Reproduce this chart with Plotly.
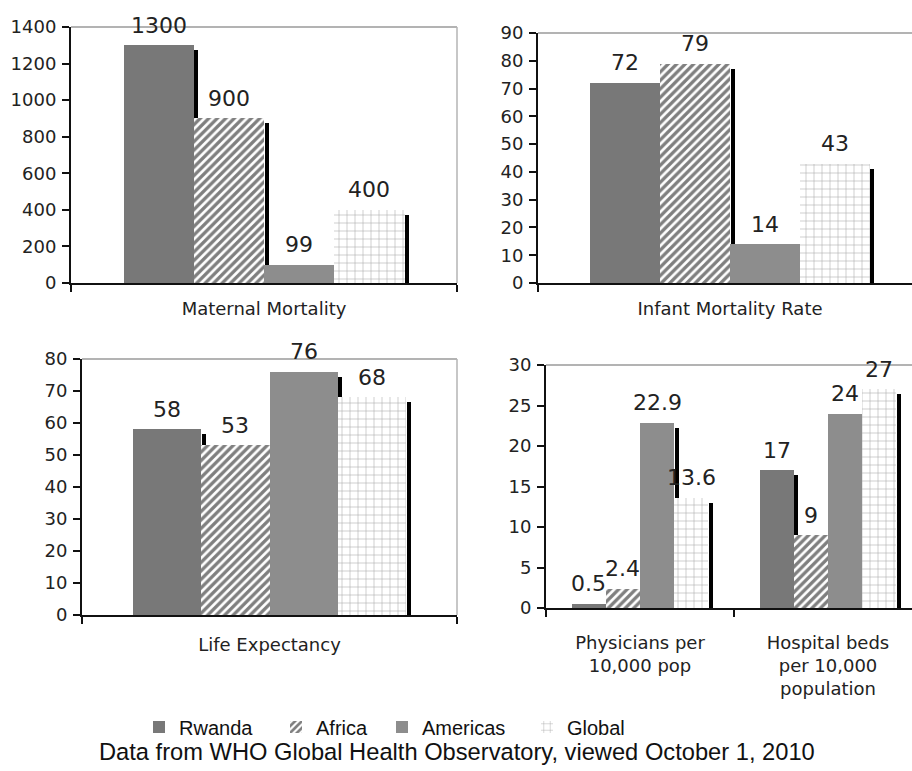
import plotly.graph_objects as go

# ---------------- data ----------------
series = ["Rwanda", "Africa", "Americas", "Global"]

cats1 = ["Maternal Mortality"]
maternal = {"Rwanda": [1300], "Africa": [900], "Americas": [99], "Global": [400]}

cats2 = ["Infant Mortality Rate"]
infant = {"Rwanda": [72], "Africa": [79], "Americas": [14], "Global": [43]}

cats3 = ["Life Expectancy"]
life = {"Rwanda": [58], "Africa": [53], "Americas": [76], "Global": [68]}

cats4 = ["Physicians per<br>10,000 pop", "Hospital beds<br>per 10,000<br>population"]
resources = {"Rwanda": [0.5, 17], "Africa": [2.4, 9], "Americas": [22.9, 24], "Global": [13.6, 27]}

footnote = "Data from WHO Global Health Observatory, viewed October 1, 2010"

# ---------------- styling ----------------
W, H = 912, 771
fills = {"Rwanda": "#787878", "Africa": "#ffffff", "Americas": "#8d8d8d", "Global": "#ffffff"}
patterns = {
    "Rwanda": dict(shape=""),
    "Africa": dict(shape="/", fgcolor="#000000", bgcolor="#ffffff", size=6, solidity=0.55),
    "Americas": dict(shape=""),
    "Global": dict(shape="+", fgcolor="#555555", bgcolor="#ffffff", size=8, solidity=0.14),
}
legend_x = {"Rwanda": 139, "Africa": 276, "Americas": 382, "Global": 527}

# panel boxes in pixels: x0, x1 (full category extent), y_top, y_bottom
panels = [
    dict(cats=cats1, data=maternal, ymax=1400, dtick=200, box=(71, 457, 27, 283), standoff=8, frame_right=True),
    dict(cats=cats2, data=infant, ymax=90, dtick=10, box=(538, 922, 33, 283), standoff=8, frame_right=False),
    dict(cats=cats3, data=life, ymax=80, dtick=10, box=(82, 457, 359, 615), standoff=12, frame_right=True),
    dict(cats=cats4, data=resources, ymax=30, dtick=5, box=(546, 922, 365, 608), standoff=17, frame_right=False),
]

BAR = 0.182          # bar width as fraction of a category
SH_W, SH_DX, SH_DY = 4, 2.5, 5   # shadow width / x offset / drop, in pixels

fig = go.Figure()
annotations = []
shapes = []
layout_axes = {}

for p, pan in enumerate(panels):
    k = "" if p == 0 else str(p + 1)
    xa, ya = "x" + k, "y" + k
    x0, x1, yt, yb = pan["box"]
    n = len(pan["cats"])
    ppu = (x1 - x0) / n                   # pixels per category unit
    ppv = (yb - yt) / pan["ymax"]         # pixels per value unit
    xr_end = -0.5 + (min(x1, W) - x0) / ppu

    # shadows first (drawn behind)
    for j, s in enumerate(series):
        xs, ys, ws = [], [], []
        for i, v in enumerate(pan["data"][s]):
            top = v - SH_DY / ppv
            if top <= 0:
                continue
            right = i + (j - 1.5) * BAR + BAR / 2
            xs.append(right + SH_DX / ppu)
            ys.append(top)
            ws.append(SH_W / ppu)
        if xs:
            fig.add_trace(go.Bar(x=xs, y=ys, width=ws, marker=dict(color="#000000", line=dict(width=0)),
                                 xaxis=xa, yaxis=ya, showlegend=False, hoverinfo="skip"))
    # main bars
    for j, s in enumerate(series):
        vals = pan["data"][s]
        xs = [i + (j - 1.5) * BAR for i in range(n)]
        fig.add_trace(go.Bar(
            x=xs, y=vals, width=[BAR] * n, name=s,
            marker=dict(color=fills[s], pattern=patterns[s], line=dict(width=0)),
            xaxis=xa, yaxis=ya, showlegend=(p == 0), legendgroup=s,
            legend="legend" if j == 0 else f"legend{j + 1}",
        ))
        for xv, v in zip(xs, vals):
            annotations.append(dict(x=xv, y=v, xref=xa, yref=ya, text=f"{v:g}", showarrow=False,
                                    yanchor="middle", yshift=20,
                                    font=dict(family="DejaVu Sans", size=22, color="#222222")))

    dom_x = [x0 / W, min(x1, W) / W]
    dom_y = [(H - yb) / H, (H - yt) / H]
    layout_axes["xaxis" + k] = dict(
        domain=dom_x, range=[-0.5, xr_end], anchor=ya, showgrid=False, zeroline=False,
        showline=True, linecolor="#111111", linewidth=2, automargin=False,
        tickvals=list(range(n)), ticktext=pan["cats"], ticks="",
        ticklabelstandoff=pan["standoff"],
        tickfont=dict(family="DejaVu Sans", size=18, color="#222222"),
        minor=dict(tickvals=[i - 0.5 for i in range(n + 1)], ticks="outside", ticklen=7,
                   tickcolor="#111111", tickwidth=1.5, showgrid=False),
        fixedrange=True,
    )
    layout_axes["yaxis" + k] = dict(
        domain=dom_y, range=[0, pan["ymax"]], anchor=xa, showgrid=False, zeroline=False,
        showline=True, linecolor="#111111", linewidth=2, dtick=pan["dtick"], automargin=False,
        ticks="outside", ticklen=7, tickwidth=1.5, tickcolor="#111111", ticklabelstandoff=2,
        tickfont=dict(family="DejaVu Sans", size=18, color="#222222"),
        fixedrange=True,
    )
    # gray frame (top and right)
    shapes.append(dict(type="line", xref=xa + " domain", yref=ya + " domain", x0=0, x1=1, y0=1, y1=1,
                       line=dict(color="#9a9a9a", width=1.5)))
    if pan["frame_right"]:
        shapes.append(dict(type="line", xref=xa + " domain", yref=ya + " domain", x0=1, x1=1, y0=0, y1=1,
                           line=dict(color="#b5b5b5", width=1.5)))

annotations.append(dict(x=457 / W, y=(H - 752) / H, xref="paper", yref="paper", text=footnote,
                        showarrow=False, xanchor="center", yanchor="middle",
                        font=dict(family="Liberation Sans", size=23.7, color="#111111")))

legends = {}
for j, s in enumerate(series):
    key = "legend" if j == 0 else f"legend{j + 1}"
    legends[key] = dict(orientation="h", x=legend_x[s] / W, xanchor="left", y=(H - 727) / H, yanchor="middle",
                        font=dict(family="Liberation Sans", size=20, color="#111111"),
                        itemwidth=30, bgcolor="rgba(0,0,0,0)", borderwidth=0)

fig.update_layout(
    width=W, height=H, autosize=False,
    margin=dict(l=0, r=0, t=0, b=0, autoexpand=False),
    paper_bgcolor="white", plot_bgcolor="white",
    barmode="overlay", bargap=0,
    showlegend=True,
    annotations=annotations, shapes=shapes,
    **legends,
    **layout_axes,
)

fig.write_html("out.html", config={"displayModeBar": False},
               post_script="document.body.style.margin='0';document.body.style.overflow='hidden';")
